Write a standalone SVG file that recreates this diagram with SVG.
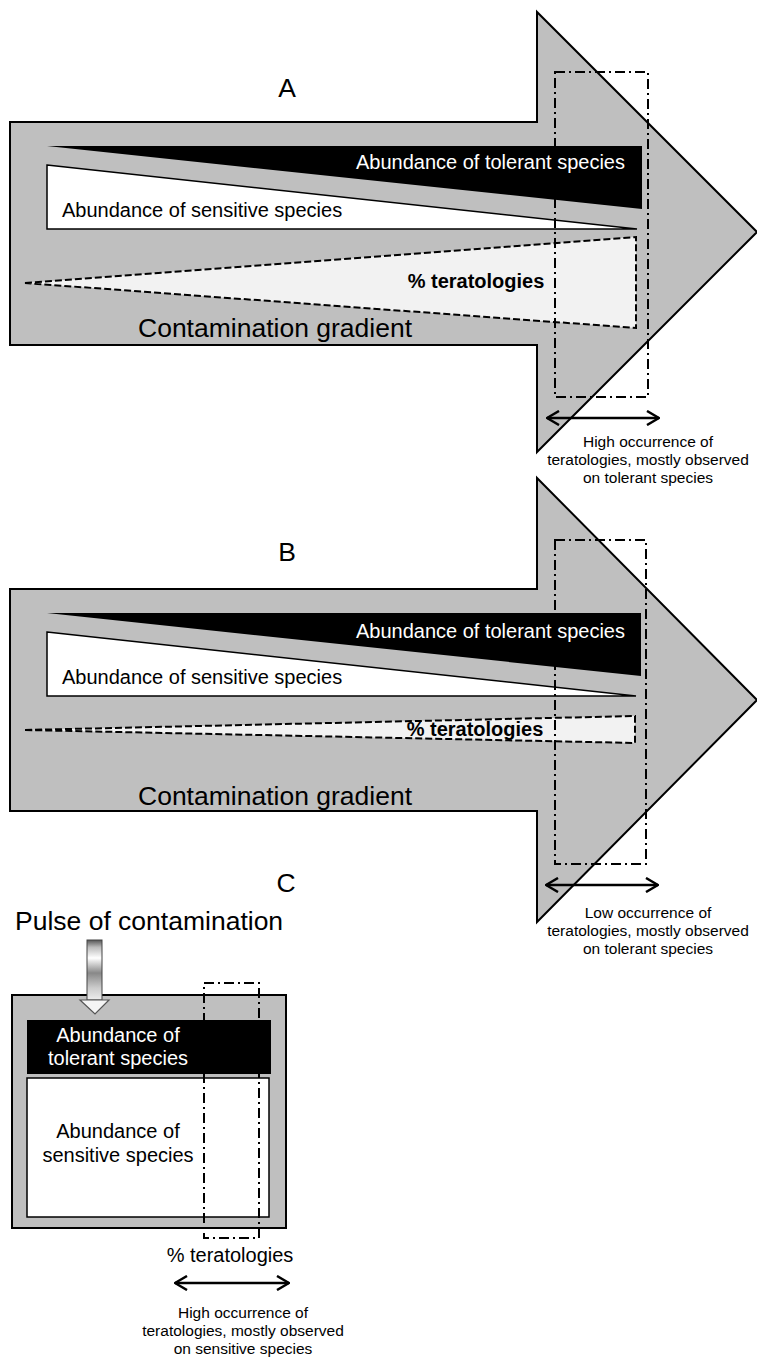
<svg xmlns="http://www.w3.org/2000/svg" width="757" height="1361" viewBox="0 0 757 1361">
<defs>
<style>
.t{font-family:"Liberation Sans",Arial,sans-serif;fill:#000}
.w{fill:#fff}
.big{font-size:26.5px}
.mid{font-size:20px}
.sm{font-size:15.5px}
.bold{font-weight:bold}
.body{fill:#bfbfbf;stroke:#000;stroke-width:2}
.tol{fill:#000}
.sens{fill:#fff;stroke:#000;stroke-width:1.5}
.terat{fill:#f2f2f2;stroke:#000;stroke-width:2;stroke-dasharray:7 3}
.window{fill:none;stroke:#000;stroke-width:2;stroke-dasharray:10 4 2 4}
.dbl{stroke:#000;stroke-width:2.5;fill:none;marker-start:url(#chev);marker-end:url(#chev)}
</style>
<marker id="chev" viewBox="0 0 14 16" refX="13" refY="8" markerWidth="14" markerHeight="16" markerUnits="userSpaceOnUse" orient="auto-start-reverse">
<path d="M1,1 L13,8 L1,15" fill="none" stroke="#000" stroke-width="2.5"/>
</marker>
<linearGradient id="pulse" x1="0" y1="0" x2="0" y2="1">
<stop offset="0" stop-color="#555"/>
<stop offset="0.12" stop-color="#bbb"/>
<stop offset="0.3" stop-color="#fff"/>
<stop offset="0.55" stop-color="#888"/>
<stop offset="0.8" stop-color="#ccc"/>
<stop offset="1" stop-color="#eee"/>
</linearGradient>
</defs>

<g id="panel-A">
<text class="t big" x="287" y="97" text-anchor="middle">A</text>
<polygon class="body" points="10,122 537,122 537,12 757,232 537,452 537,345 10,345"/>
<polygon class="tol" points="47,146 642,146 642,209"/>
<polygon class="sens" points="47,165 637,229 47,229"/>
<polygon class="terat" points="25,283 636,237 636,328"/>
<text class="t w mid" x="625" y="169" text-anchor="end">Abundance of tolerant species</text>
<text class="t mid" x="62" y="217">Abundance of sensitive species</text>
<text class="t mid bold" x="476" y="288" text-anchor="middle">% teratologies</text>
<text class="t big" x="138" y="337">Contamination gradient</text>
<rect class="window" x="555" y="72" width="93" height="325"/>
<text class="t sm" x="648" y="447" text-anchor="middle">High occurrence of</text>
<text class="t sm" x="648" y="465" text-anchor="middle">teratologies, mostly observed</text>
<text class="t sm" x="648" y="483" text-anchor="middle">on tolerant species</text>
</g>

<g id="panel-B">
<text class="t big" x="287" y="561" text-anchor="middle">B</text>
<polygon class="body" points="10,589 537,589 537,478 757,700 537,922 537,811 10,811"/>
<polygon class="tol" points="47,613 641,613 641,676"/>
<polygon class="sens" points="47,632 636,696 47,696"/>
<polygon class="terat" points="25,730 635,716 635,743"/>
<text class="t w mid" x="625" y="638" text-anchor="end">Abundance of tolerant species</text>
<text class="t mid" x="62" y="684">Abundance of sensitive species</text>
<text class="t mid bold" x="475" y="736" text-anchor="middle">% teratologies</text>
<text class="t big" x="138" y="805">Contamination gradient</text>
<rect class="window" x="555" y="540" width="91" height="324"/>
<text class="t sm" x="648" y="918" text-anchor="middle">Low occurrence of</text>
<text class="t sm" x="648" y="936" text-anchor="middle">teratologies, mostly observed</text>
<text class="t sm" x="648" y="954" text-anchor="middle">on tolerant species</text>
</g>

<g id="panel-C">
<text class="t big" x="286" y="892" text-anchor="middle">C</text>
<text class="t big" x="15" y="930">Pulse of contamination</text>
<rect class="body" x="12" y="995" width="274" height="233"/>
<rect class="tol" x="27" y="1020" width="244" height="54"/>
<rect class="sens" x="27" y="1078" width="242" height="139" stroke-width="2"/>
<text class="t w mid" x="118" y="1042" text-anchor="middle">Abundance of</text>
<text class="t w mid" x="118" y="1065" text-anchor="middle">tolerant species</text>
<text class="t mid" x="118" y="1138" text-anchor="middle">Abundance of</text>
<text class="t mid" x="118" y="1162" text-anchor="middle">sensitive species</text>
<rect class="window" x="204" y="983" width="55" height="255"/>
<text class="t mid" x="230" y="1262" text-anchor="middle">% teratologies</text>
<text class="t sm" x="243" y="1318" text-anchor="middle">High occurrence of</text>
<text class="t sm" x="243" y="1336" text-anchor="middle">teratologies, mostly observed</text>
<text class="t sm" x="243" y="1354" text-anchor="middle">on sensitive species</text>
</g>

<g id="connectors">
<line class="dbl" x1="547" y1="418" x2="659" y2="418"/>
<line class="dbl" x1="546" y1="885" x2="658" y2="885"/>
<line class="dbl" x1="175" y1="1283" x2="289" y2="1283"/>
<g id="pulse-arrow">
<rect x="87" y="940" width="15" height="60" fill="url(#pulse)" stroke="#444" stroke-width="1"/>
<polygon points="80,1000 109,1000 95,1014" fill="#f4f4f4" stroke="#555" stroke-width="1.2"/>
</g>
</g>
</svg>
